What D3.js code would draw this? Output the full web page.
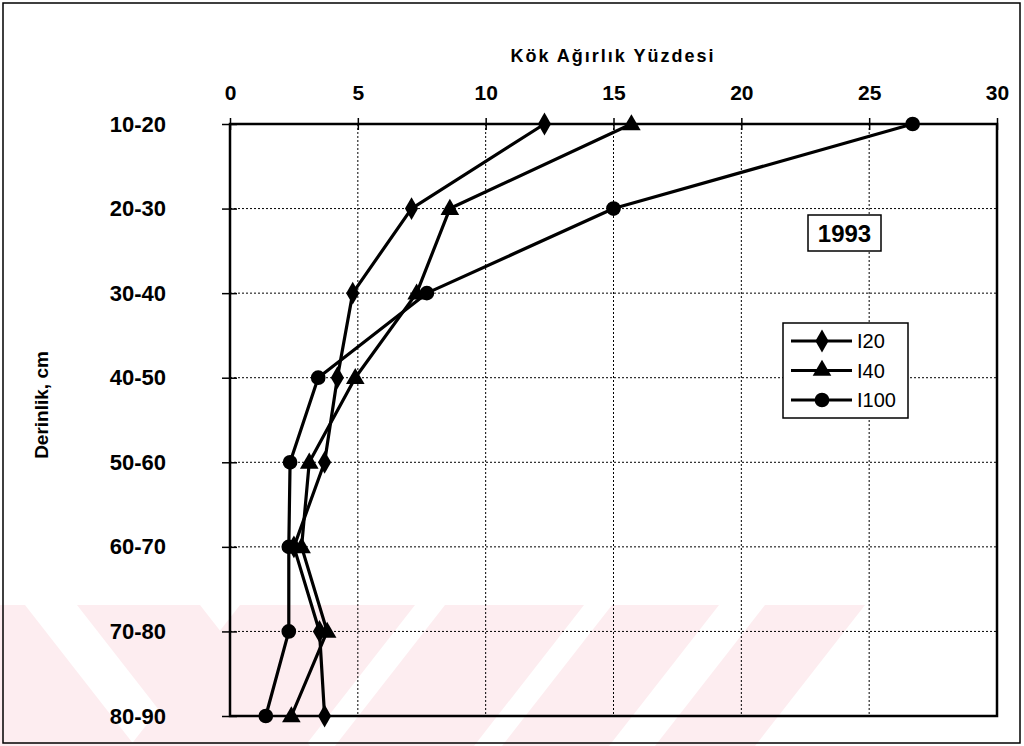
<!DOCTYPE html>
<html>
<head>
<meta charset="utf-8">
<script src="https://cdn.jsdelivr.net/npm/d3@7"></script>
<style>
  html, body { margin: 0; padding: 0; background: #fff; }
  svg { display: block; }
  text { font-family: Arial, "Liberation Sans", sans-serif; fill: #000; }
</style>
</head>
<body>
<svg id="chart" width="1024" height="746"></svg>
<script>
// ---- data ----
const depths = ["10-20", "20-30", "30-40", "40-50", "50-60", "60-70", "70-80", "80-90"];
const xTicks = [0, 5, 10, 15, 20, 25, 30];
const seriesNames = ["I20", "I40", "I100"];
const I20  = [12.3, 7.1, 4.8, 4.2, 3.7, 2.5, 3.5, 3.7];
const I40  = [15.7, 8.6, 7.3, 4.9, 3.1, 2.8, 3.8, 2.4];
const I100 = [26.7, 15.0, 7.7, 3.45, 2.35, 2.3, 2.3, 1.4];
const titleText = "Kök Ağırlık Yüzdesi";
const yTitleText = "Derinlik, cm";
const yearText = "1993";

const svg = d3.select("#chart");

// ---- faint watermark bands ----
const wm = svg.append("g").attr("fill", "#fdedf0");
const wmTop = 605, wmBot = 746, shift = 110;
const back = [[-120, 25], [77, 200]];          // "\" bands (top x ranges)
const fwd = [[240, 415], [445, 584], [612, 719], [765, 865]]; // "/" bands
back.forEach(([a, b]) => wm.append("polygon")
  .attr("points", `${a},${wmTop} ${b},${wmTop} ${b + shift},${wmBot} ${a + shift},${wmBot}`));
fwd.forEach(([a, b]) => wm.append("polygon")
  .attr("points", `${a},${wmTop} ${b},${wmTop} ${b - shift},${wmBot} ${a - shift},${wmBot}`));

// outer frame
svg.append("rect").attr("x", 3).attr("y", 3).attr("width", 1017).attr("height", 740)
  .attr("fill", "none").attr("stroke", "#000").attr("stroke-width", 1.5);

// ---- scales ----
const x = d3.scaleLinear().domain([0, 30]).range([230, 997]);
const y = d3.scalePoint().domain(depths).range([124, 716]);

// gridlines
const grid = svg.append("g").attr("stroke", "#000").attr("stroke-width", 1)
  .attr("stroke-dasharray", "2,2");
xTicks.slice(1, -1).forEach(t => grid.append("line")
  .attr("x1", x(t)).attr("x2", x(t)).attr("y1", y(depths[0])).attr("y2", y(depths[depths.length - 1])));
depths.slice(1, -1).forEach(d => grid.append("line")
  .attr("x1", x(0)).attr("x2", x(30)).attr("y1", y(d)).attr("y2", y(d)));

// plot border
svg.append("rect").attr("x", x(0)).attr("y", y(depths[0]))
  .attr("width", x(30) - x(0)).attr("height", y(depths[7]) - y(depths[0]))
  .attr("fill", "none").attr("stroke", "#000").attr("stroke-width", 2.5);

// top axis
const xAxis = d3.axisTop(x).tickValues(xTicks).tickSize(6).tickPadding(18).tickFormat(d3.format("d"));
const gx = svg.append("g").attr("transform", `translate(0,${y(depths[0])})`).call(xAxis);
gx.select(".domain").remove();
gx.selectAll(".tick line").attr("stroke", "#000").attr("stroke-width", 1.5).attr("y2", 6).attr("y1", -6);
gx.selectAll(".tick text").attr("font-size", 21).attr("font-weight", "bold")
  .attr("font-family", "Arial, 'Liberation Sans', sans-serif");

// left axis
const yAxis = d3.axisLeft(y).tickSize(8).tickPadding(56);
const gy = svg.append("g").attr("transform", `translate(${x(0)},0)`).call(yAxis);
gy.select(".domain").remove();
gy.selectAll(".tick line").attr("stroke", "#000").attr("stroke-width", 1.5).attr("x1", 7).attr("x2", -8);
gy.selectAll(".tick text").attr("font-size", 22).attr("font-weight", "bold")
  .attr("font-family", "Arial, 'Liberation Sans', sans-serif");

// titles
svg.append("text").attr("x", 613).attr("y", 62).attr("text-anchor", "middle")
  .attr("font-size", 18).attr("font-weight", "bold").attr("letter-spacing", 2).text(titleText);
svg.append("text").attr("transform", "translate(48,405) rotate(-90)").attr("text-anchor", "middle")
  .attr("font-size", 19).attr("font-weight", "bold").text(yTitleText);

// ---- series ----
const seriesData = [I20, I40, I100];
const symbols = [d3.symbolDiamond, d3.symbolTriangle, d3.symbolCircle];
const symSizes = [150, 150, 170];
const line = d3.line().x(d => x(d.v)).y(d => y(d.c));

[2, 1, 0].forEach(i => {
  const pts = seriesData[i].map((v, j) => ({ v, c: depths[j] }));
  svg.append("path").datum(pts).attr("d", line)
    .attr("fill", "none").attr("stroke", "#000").attr("stroke-width", 3.2).attr("stroke-linejoin", "round");
  svg.append("g").selectAll("path").data(pts).join("path")
    .attr("transform", d => `translate(${x(d.v)},${y(d.c) + (i === 1 ? 1 : 0)})`)
    .attr("d", d3.symbol().type(symbols[i]).size(symSizes[i]))
    .attr("fill", "#000");
});

// year box
const yr = svg.append("g");
yr.append("rect").attr("x", 808).attr("y", 215).attr("width", 73).attr("height", 36)
  .attr("fill", "#fff").attr("stroke", "#000").attr("stroke-width", 1.5);
yr.append("text").attr("x", 844.5).attr("y", 242).attr("text-anchor", "middle")
  .attr("font-size", 24).attr("font-weight", "bold").text(yearText);

// legend
const lg = svg.append("g");
lg.append("rect").attr("x", 783).attr("y", 323).attr("width", 125).attr("height", 95)
  .attr("fill", "#fff").attr("stroke", "#000").attr("stroke-width", 1.5);
seriesNames.forEach((name, i) => {
  const ly = 341 + i * 29.5;
  lg.append("line").attr("x1", 791).attr("x2", 852).attr("y1", ly).attr("y2", ly)
    .attr("stroke", "#000").attr("stroke-width", 3);
  lg.append("path").attr("transform", `translate(822,${ly})`)
    .attr("d", d3.symbol().type(symbols[i]).size(symSizes[i])).attr("fill", "#000");
  lg.append("text").attr("x", 857).attr("y", ly + 7).attr("font-size", 20).text(name);
});
</script>
</body>
</html>
